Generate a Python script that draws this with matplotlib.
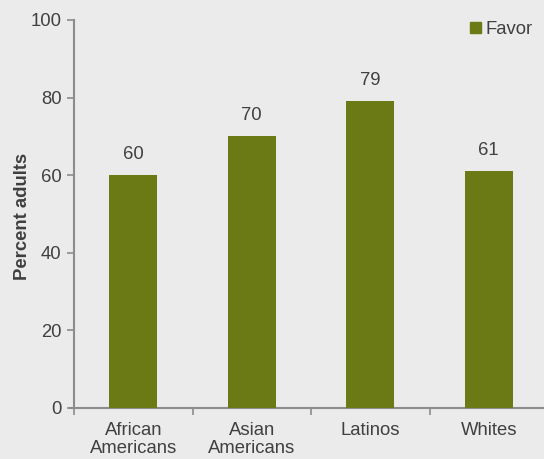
import matplotlib
matplotlib.use("Agg")
import matplotlib.pyplot as plt
from matplotlib.patches import Patch

categories = ["African\nAmericans", "Asian\nAmericans", "Latinos", "Whites"]
favor = [60, 70, 79, 61]
yticks = [0, 20, 40, 60, 80, 100]

plt.rcParams['font.family'] = ['Liberation Sans', 'DejaVu Sans']
bg = '#EBEBEB'
bar_color = '#6B7A14'
text_color = '#404040'
spine_color = '#8C8C8C'
fs = 13.3

fig = plt.figure(figsize=(5.44, 4.59), dpi=100, facecolor=bg)
ax = fig.add_axes([74/544, 1-408/459, 474/544, 388/459], facecolor=bg)

x = list(range(len(categories)))
bars = ax.bar(x, favor, width=0.405, color=bar_color, label='Favor', zorder=3)
for xi, v in zip(x, favor):
    ax.annotate(str(v), (xi, v), xytext=(0, 9), textcoords='offset points',
                ha='center', va='bottom', fontsize=fs, color=text_color)

ax.set_xlim(-0.5, 3.5)
ax.set_ylim(0, 100)
ax.set_yticks(yticks)
ax.tick_params(axis='y', length=5, width=1.2, color=spine_color, labelsize=fs, labelcolor=text_color, pad=4)
ax.set_xticks([i + 0.5 for i in range(-1, 4)], minor=False)
ax.set_xticklabels([])
ax.set_xticks(x, minor=True)
ax.set_xticklabels(categories, minor=True, fontsize=fs, color=text_color, linespacing=1.05)
ax.tick_params(axis='x', which='major', length=5, width=1.2, color=spine_color)
ax.tick_params(axis='x', which='minor', length=0, pad=10)

for s in ['top', 'right']:
    ax.spines[s].set_visible(False)
for s in ['left', 'bottom']:
    ax.spines[s].set_color(spine_color)
    ax.spines[s].set_linewidth(1.5)
ax.spines['bottom'].set_bounds(-0.53, 3.5)

ax.set_ylabel('Percent adults', fontsize=13.3, fontweight='bold', color=text_color)
ax.yaxis.set_label_coords(-43/474, 0.495)

leg = ax.legend(handles=[Patch(color=bar_color, label='Favor')], loc='upper right',
                bbox_to_anchor=(1 - 11/544, 1 - 21/459), bbox_transform=fig.transFigure,
                frameon=False, fontsize=fs, handlelength=0.6, handleheight=0.6,
                handletextpad=0.25, borderaxespad=0, borderpad=0)
for t in leg.get_texts():
    t.set_color(text_color)

fig.savefig('out.png', dpi=100, facecolor=bg)
